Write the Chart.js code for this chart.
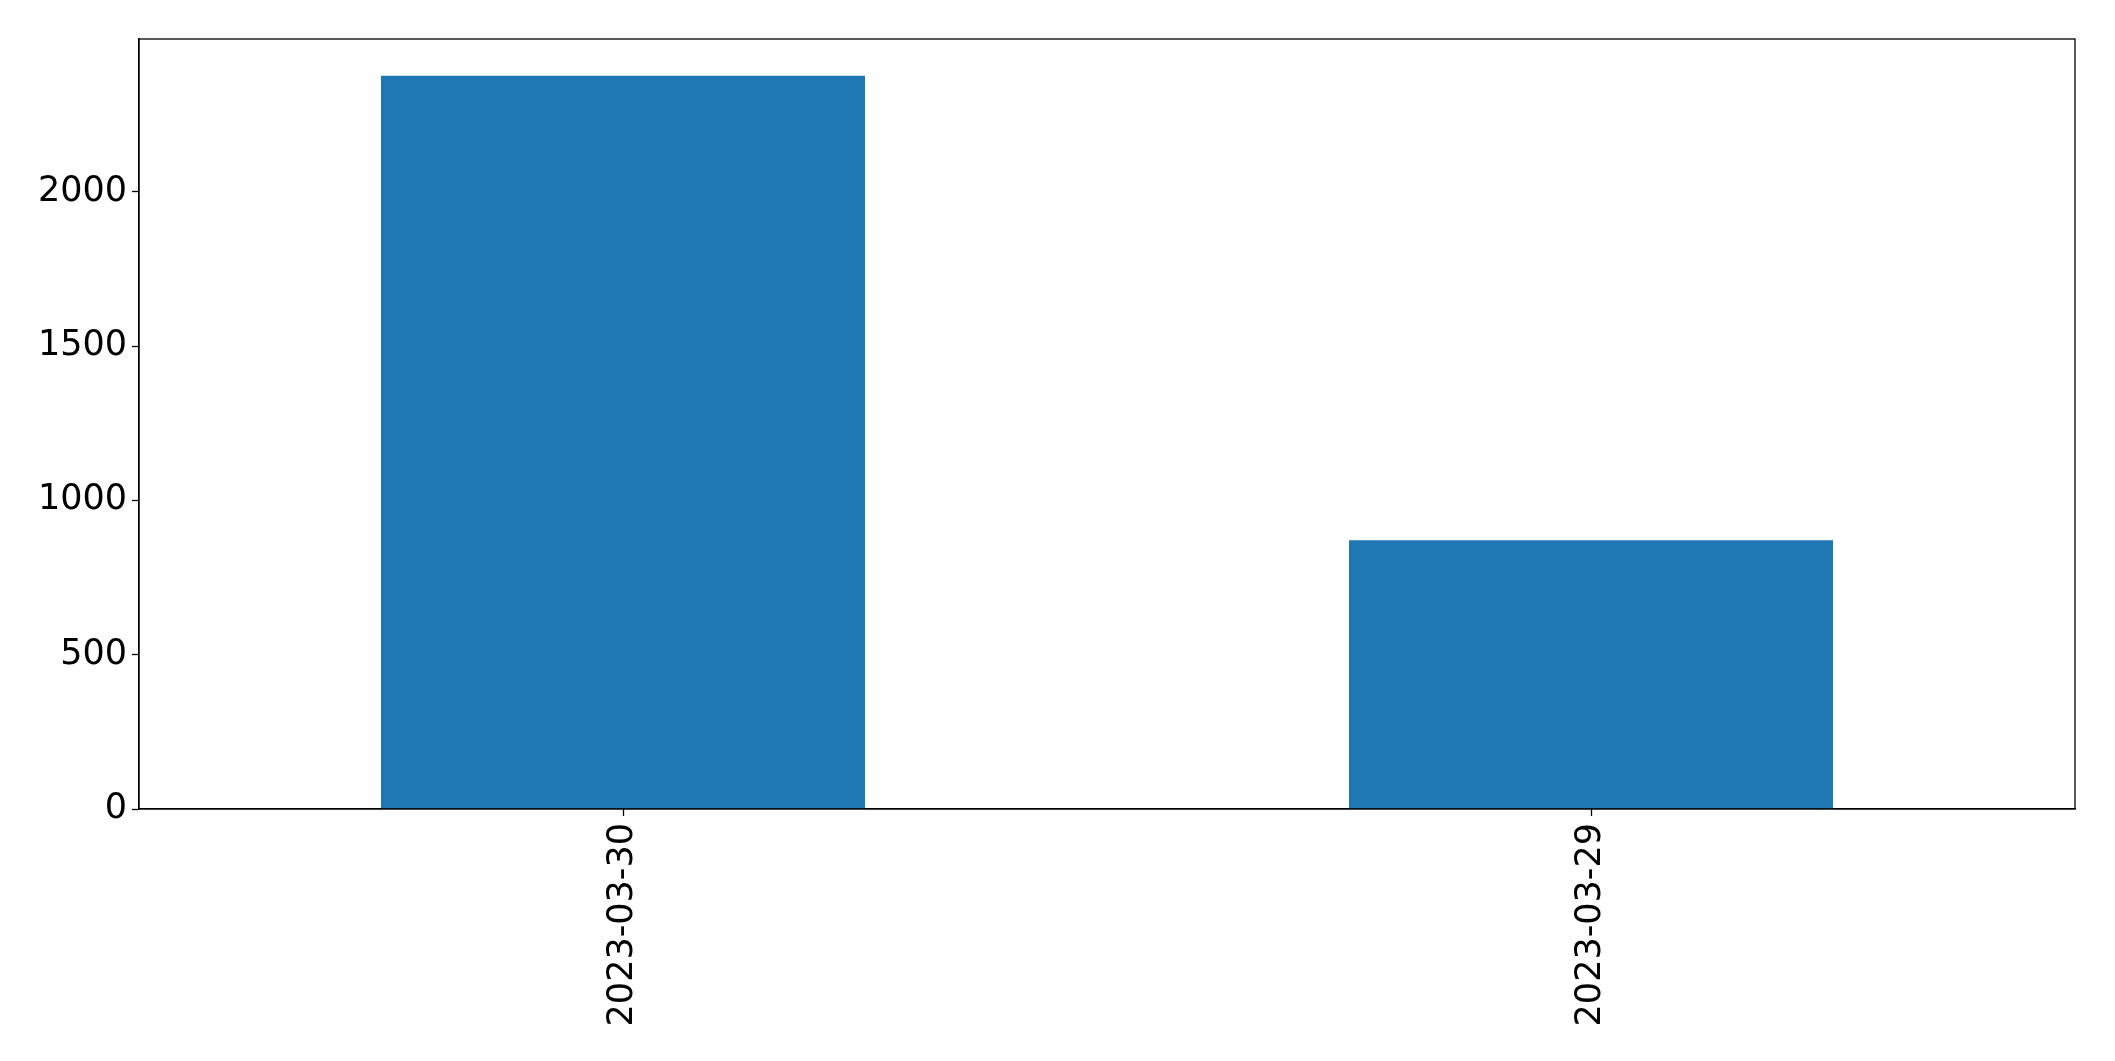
<!DOCTYPE html>
<html lang="en">
<head>
  <meta charset="UTF-8">
  <title>Daily count</title>
  <script src="https://cdn.jsdelivr.net/npm/chart.js@4.4.0/dist/chart.umd.min.js"></script>
  <style>
    html, body { margin: 0; padding: 0; background: #fff; }
    #wrap { width: 2115px; height: 1061px; }
  </style>
</head>
<body>
  <div id="wrap"><canvas id="barChart" width="2115" height="1061"></canvas></div>

  <script>
    // values
    const dates = ['2023-03-30', '2023-03-29'];
    const counts = [2376, 871];
    const yTicks = [0, 500, 1000, 1500, 2000];
    const yMax = 2495;

    // box around the plot area (matplotlib spines)
    const frame = {
      id: 'frame',
      afterDraw(chart) {
        const a = chart.chartArea;
        const c = chart.ctx;
        c.save();
        c.strokeStyle = '#000';
        c.lineWidth = 1.3;
        c.strokeRect(a.left, a.top, a.right - a.left, a.bottom - a.top);
        c.restore();
      }
    };

    const tickFont = { family: 'DejaVu Sans', size: 35 };

    new Chart(document.getElementById('barChart').getContext('2d'), {
      type: 'bar',
      data: {
        labels: dates,
        datasets: [{
          data: counts,
          backgroundColor: '#1f77b4',
          borderWidth: 0,
          categoryPercentage: 1.0,
          barPercentage: 0.5
        }]
      },
      options: {
        responsive: false,
        animation: false,
        layout: { padding: { top: 39, right: 40, left: 0, bottom: 0 } },
        plugins: { legend: { display: false }, tooltip: { enabled: false } },
        scales: {
          x: {
            grid: { offset: false, drawOnChartArea: false, tickLength: 7, color: '#000', tickWidth: 1.3 },
            border: { display: true, color: '#000', width: 1.3 },
            ticks: { color: '#000', font: tickFont, minRotation: 90, maxRotation: 90, padding: 7 },
            afterFit(scale) { scale.height = 252; }
          },
          y: {
            min: 0,
            max: yMax,
            grid: { drawOnChartArea: false, tickLength: 7, color: '#000', tickWidth: 1.3 },
            border: { display: true, color: '#000', width: 1.3 },
            ticks: {
              color: '#000', font: tickFont, padding: 5, includeBounds: false,
              callback: v => String(v)
            },
            afterBuildTicks(scale) { scale.ticks = yTicks.map(v => ({ value: v })); },
            afterFit(scale) { scale.width = 139; }
          }
        }
      },
      plugins: [frame]
    });
  </script>
</body>
</html>
